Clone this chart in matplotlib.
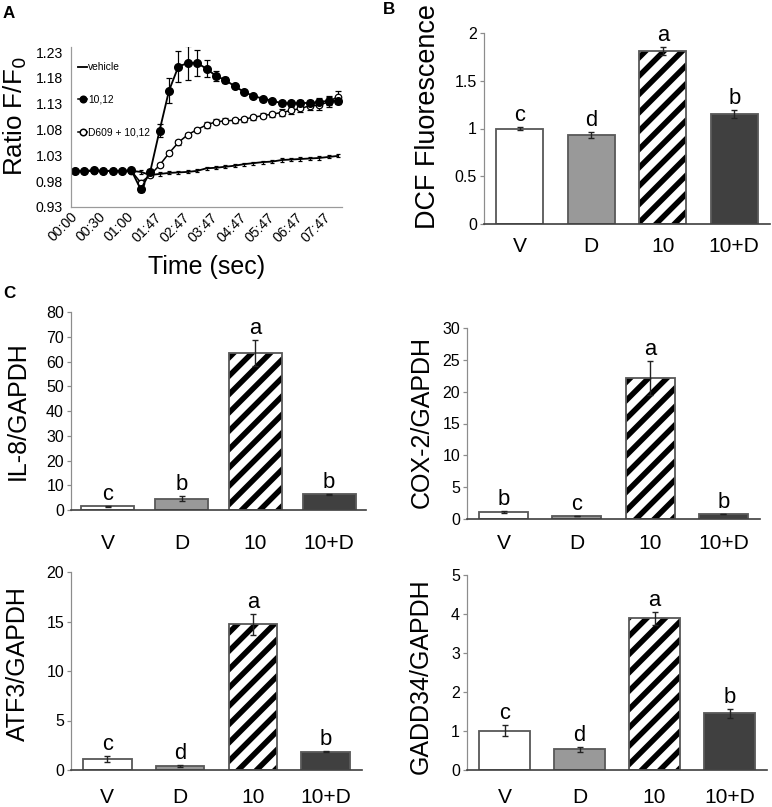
import numpy as np
import matplotlib
matplotlib.use("Agg")
import matplotlib.pyplot as plt
from matplotlib.lines import Line2D
from matplotlib.ticker import FuncFormatter

plt.rcParams['font.family'] = ['Liberation Sans', 'DejaVu Sans']
plt.rcParams['hatch.linewidth'] = 3.6

DPI = 110
W, H = 772, 807

# ---- panel A: calcium ratio time course (29 readings) ----
time_labels = ["00:00", "00:30", "01:00", "01:47", "02:47", "03:47",
               "04:47", "05:47", "06:47", "07:47"]
vehicle = [1.000, 1.000, 1.000, 1.000, 1.000, 1.000, 1.000, 0.998, 0.992, 0.994,
           0.996, 0.997, 0.998, 1.000, 1.005, 1.006, 1.008, 1.010, 1.013, 1.015,
           1.017, 1.018, 1.021, 1.022, 1.023, 1.024, 1.025, 1.027, 1.029]
vehicle_err = [0.001, 0.001, 0.001, 0.001, 0.001, 0.001, 0.001, 0.004, 0.003, 0.003,
               0.003, 0.003, 0.003, 0.003, 0.003, 0.003, 0.003, 0.003, 0.003, 0.003,
               0.003, 0.003, 0.003, 0.003, 0.003, 0.003, 0.003, 0.003, 0.003]
cla = [1.000, 1.000, 1.001, 1.000, 1.000, 1.000, 1.001, 0.964, 0.998, 1.078,
       1.155, 1.202, 1.209, 1.209, 1.198, 1.184, 1.176, 1.164, 1.153, 1.145,
       1.140, 1.136, 1.131, 1.131, 1.131, 1.132, 1.133, 1.136, 1.136]
cla_err = [0.001, 0.001, 0.001, 0.001, 0.001, 0.001, 0.001, 0.004, 0.005, 0.012,
           0.024, 0.030, 0.033, 0.025, 0.016, 0.010, 0.006, 0.004, 0.003, 0.003,
           0.003, 0.003, 0.004, 0.005, 0.006, 0.006, 0.008, 0.009, 0.007]
d609 = [1.000, 1.000, 1.000, 1.000, 1.000, 1.000, 1.000, 0.977, 0.992, 1.011,
        1.034, 1.055, 1.070, 1.080, 1.089, 1.095, 1.097, 1.098, 1.100, 1.104,
        1.107, 1.110, 1.113, 1.117, 1.121, 1.126, 1.127, 1.134, 1.144]
d609_err = [0.001, 0.001, 0.001, 0.001, 0.001, 0.001, 0.001, 0.005, 0.004, 0.004,
            0.004, 0.004, 0.004, 0.004, 0.005, 0.005, 0.005, 0.005, 0.005, 0.005,
            0.005, 0.005, 0.006, 0.006, 0.007, 0.008, 0.010, 0.010, 0.010]
a_yticks = [0.93, 0.98, 1.03, 1.08, 1.13, 1.18, 1.23]

# ---- bar panels ----
groups = ["V", "D", "10", "10+D"]
dcf = [1.00, 0.93, 1.81, 1.15]
dcf_err = [0.02, 0.03, 0.04, 0.04]
dcf_letters = ["c", "d", "a", "b"]
il8 = [1.5, 4.5, 63.5, 6.3]
il8_err = [0.2, 1.0, 5.2, 0.3]
il8_letters = ["c", "b", "a", "b"]
cox2 = [1.1, 0.47, 22.1, 0.8]
cox2_err = [0.1, 0.05, 2.7, 0.05]
cox2_letters = ["b", "c", "a", "b"]
atf3 = [1.08, 0.4, 14.7, 1.85]
atf3_err = [0.3, 0.1, 1.1, 0.05]
atf3_letters = ["c", "d", "a", "b"]
gadd34 = [1.01, 0.53, 3.89, 1.45]
gadd34_err = [0.15, 0.07, 0.17, 0.11]
gadd34_letters = ["c", "d", "a", "b"]

fills = ["white", "#999999", "white", "#404040"]
hatches = [None, None, "//", None]


def pt(v):
    return v * 72.0 / DPI


fig = plt.figure(figsize=(W / DPI, H / DPI), dpi=DPI)


def add_ax(l, t, r, b):
    return fig.add_axes([l / W, 1 - b / H, (r - l) / W, (b - t) / H])


def ylabel_at(xpx, ypx, text, size=25):
    fig.text(xpx / W, 1 - ypx / H, text, rotation=90, ha='center', va='center',
             fontsize=pt(size))


def style_spines(ax):
    for s in ("top", "right"):
        ax.spines[s].set_visible(False)
    ax.spines["left"].set_color("#8c8c8c")
    ax.spines["bottom"].set_color("#404040")
    ax.spines["bottom"].set_linewidth(1.1)


def bar_panel(box, values, errs, letters, ymax, ystep, label, label_xy,
              width=0.67, pad=15, label_size=25):
    ax = add_ax(*box)
    x = np.arange(len(groups))
    bars = ax.bar(x, values, width, color=fills, edgecolor="black", linewidth=0)
    for b, h in zip(bars, hatches):
        if h:
            b.set_hatch(h)
    ax.bar(x, values, width, fill=False, edgecolor="#5a5a5a", linewidth=1.2)
    ax.errorbar(x, values, yerr=errs, fmt="none", ecolor="#222222",
                elinewidth=0.9, capsize=2, capthick=0.9)
    for xi, v, e, l in zip(x, values, errs, letters):
        ax.annotate(l, (xi, v + e), xytext=(0, pt(6)), textcoords="offset points",
                    ha="center", va="baseline", fontsize=pt(22))
    ax.set_xlim(-0.5, len(groups) - 0.5)
    ax.set_ylim(0, ymax)
    ax.set_yticks(np.arange(0, ymax + ystep / 2, ystep))
    ax.yaxis.set_major_formatter(FuncFormatter(lambda v, p: "%g" % v))
    ax.set_xticks(x)
    ax.set_xticklabels(groups, fontsize=pt(21))
    ax.tick_params(axis="x", length=0, pad=pt(pad))
    ax.tick_params(axis="y", length=pt(4), color="#8c8c8c", labelsize=pt(16), pad=pt(3))
    style_spines(ax)
    ylabel_at(label_xy[0], label_xy[1], label, size=label_size)
    return ax


# ---- panel A ----
axA = add_ax(71, 47, 342, 207)
xa = np.arange(len(vehicle))
axA.errorbar(xa, vehicle, yerr=vehicle_err, color="black", lw=1.2,
             elinewidth=0.8, capsize=1.5, capthick=0.8)
axA.errorbar(xa, d609, yerr=d609_err, color="black", lw=1.0, marker="o",
             ms=pt(6.5), mfc="white", mew=0.8, elinewidth=0.8, capsize=2, capthick=0.8)
axA.errorbar(xa, cla, yerr=cla_err, color="black", lw=1.2, marker="o",
             ms=pt(7.5), mfc="black", elinewidth=0.8, capsize=2.2, capthick=0.8)
handles = [
    Line2D([], [], color="black", lw=1.2),
    Line2D([], [], color="black", lw=1.0, marker="o", ms=pt(6.5), mfc="black"),
    Line2D([], [], color="black", lw=1.0, marker="o", ms=pt(6.5), mfc="white"),
]
axA.legend(handles, ["vehicle", "10,12", "D609 + 10,12"], loc="upper left",
           bbox_to_anchor=(0.0, 0.95), frameon=False, fontsize=pt(10.3),
           handlelength=0.9, handletextpad=0.05, labelspacing=2.2, borderaxespad=0.3)
axA.set_xlim(-0.43, len(vehicle) - 0.57)
axA.set_ylim(0.93, 1.24)
axA.set_yticks(a_yticks)
axA.yaxis.set_major_formatter(FuncFormatter(lambda v, p: "%.2f" % v))
axA.set_xticks(xa[::3])
axA.set_xticklabels(time_labels, rotation=45, ha="right", va="center",
                    rotation_mode="anchor")
axA.tick_params(axis="both", length=0, labelsize=pt(14))
axA.tick_params(axis="x", pad=pt(8))
axA.tick_params(axis="y", pad=pt(8))
for s in ("top", "right"):
    axA.spines[s].set_visible(False)
axA.spines["left"].set_color("#9a9a9a")
axA.spines["bottom"].set_color("#9a9a9a")
axA.set_xlabel("Time (sec)", fontsize=pt(25), labelpad=pt(10))
ylabel_at(15, 116, "Ratio F/F$_0$", size=26)

# ---- bar panels ----
bar_panel((484, 33, 770, 224), dcf, dcf_err, dcf_letters, 2, 0.5,
          "DCF Fluorescence", (428, 117), width=0.66, pad=13, label_size=27)
bar_panel((71, 312, 366, 510), il8, il8_err, il8_letters, 80, 10,
          "IL-8/GAPDH", (18, 411), width=0.72, pad=24)
bar_panel((467, 328, 760, 519), cox2, cox2_err, cox2_letters, 30, 5,
          "COX-2/GAPDH", (422, 422), pad=15)
bar_panel((71, 572, 362, 770), atf3, atf3_err, atf3_letters, 20, 5,
          "ATF3/GAPDH", (18, 664), pad=18)
bar_panel((467, 575, 767, 770), gadd34, gadd34_err, gadd34_letters, 5, 1,
          "GADD34/GAPDH", (421, 676), pad=18)

# panel letters
for lab, xpx, ypx in (("A", 9, 13), ("B", 389, 9), ("C", 9, 293)):
    fig.text(xpx / W, 1 - ypx / H, lab, fontsize=pt(17), fontweight="bold",
             ha="center", va="center")

fig.savefig("out.png", dpi=DPI)
